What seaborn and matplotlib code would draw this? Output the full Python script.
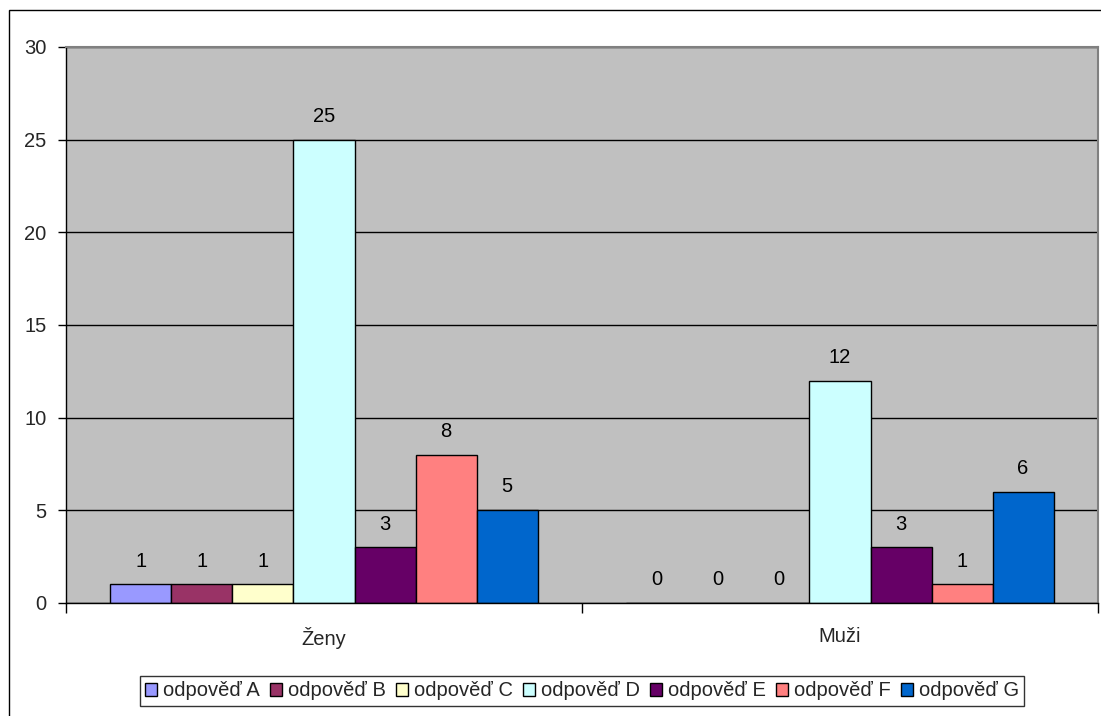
import matplotlib
matplotlib.use("Agg")
import matplotlib.pyplot as plt
import seaborn as sns
import pandas as pd
from matplotlib.patches import Rectangle

# Data
groups = ["Ženy", "Muži"]
answers = ["odpověď A", "odpověď B", "odpověď C", "odpověď D",
           "odpověď E", "odpověď F", "odpověď G"]
zeny = [1, 1, 1, 25, 3, 8, 5]
muzi = [0, 0, 0, 12, 3, 1, 6]
colors = ["#9999FF", "#993366", "#FFFFCC", "#CCFFFF",
          "#660066", "#FF8080", "#0066CC"]
y_ticks = [0, 5, 10, 15, 20, 25, 30]

rows = []
for g, vals in zip(groups, [zeny, muzi]):
    for a, v in zip(answers, vals):
        rows.append({"skupina": g, "odpověď": a, "počet": v})
df = pd.DataFrame(rows)

sns.set_theme(style="white")
plt.rcParams["font.family"] = ["Liberation Sans", "DejaVu Sans"]
FS = 14.5

W, H = 1101, 716
fig = plt.figure(figsize=(W / 100, H / 100), dpi=100)
fig.patch.set_facecolor("white")

# outer chart frame
fig.add_artist(Rectangle((9 / W, -0.1), 2.0, 1.1 - 10 / H,
                         transform=fig.transFigure, fill=False,
                         edgecolor="black", linewidth=1.0))

ax = fig.add_axes([66 / W, (H - 603) / H, (1098 - 66) / W, (603 - 47) / H])
ax.set_facecolor("#C0C0C0")

sns.barplot(data=df, x="skupina", y="počet", hue="odpověď",
            hue_order=answers, order=groups, palette=colors,
            width=0.828, gap=0, edgecolor="black", linewidth=1.0,
            saturation=1, ax=ax, legend=True)

for cont in ax.containers:
    ax.bar_label(cont, padding=10, fontsize=FS, color="black")

ax.set_ylim(0, 30)
ax.set_xlim(-0.5, 1.5)
ax.set_yticks(y_ticks)
ax.set_yticklabels([str(t) for t in y_ticks], fontsize=FS)
ax.yaxis.grid(True, color="black", linewidth=1.0)
ax.set_axisbelow(True)

# category separators as tick marks
ax.set_xticks([-0.5, 0.5, 1.5], minor=True)
ax.set_xticks([0, 1])
ax.set_xticklabels(groups, fontsize=FS)
ax.tick_params(axis="x", which="major", length=0, pad=17)
ax.tick_params(axis="x", which="minor", bottom=True, length=7,
               width=1.0, color="black", direction="out")
ax.tick_params(axis="y", left=True, length=6, width=1.0,
               color="black", direction="out", pad=8)
ax.set_xlabel("")
ax.set_ylabel("")

for side in ["left", "bottom"]:
    ax.spines[side].set_color("black")
    ax.spines[side].set_linewidth(1.0)
for side in ["top", "right"]:
    ax.spines[side].set_color("#808080")
    ax.spines[side].set_linewidth(1.5)

handles, labels = ax.get_legend_handles_labels()
ax.get_legend().remove()
leg = fig.legend(handles, labels, loc="center", ncol=7,
                 bbox_to_anchor=((137 + 1027) / 2 / W, 1 - 691 / H),
                 fontsize=FS, frameon=True, fancybox=False,
                 edgecolor="black", handlelength=0.6, handleheight=0.6,
                 handletextpad=0.3, columnspacing=0.5, borderpad=0.25,
                 borderaxespad=0)
leg.get_frame().set_linewidth(1.0)

fig.savefig("out.png", dpi=100, facecolor="white")
